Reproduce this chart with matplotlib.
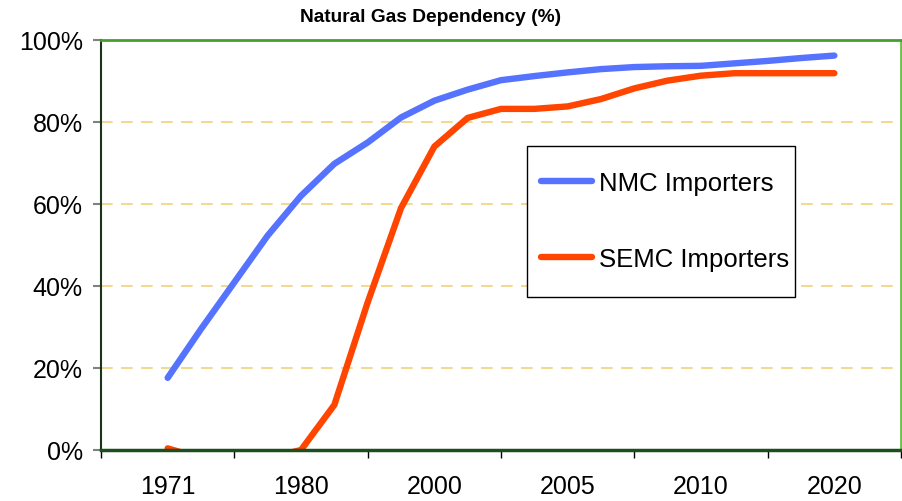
import numpy as np
import matplotlib
matplotlib.use("Agg")
import matplotlib.pyplot as plt
from matplotlib.patches import Rectangle
from matplotlib.ticker import FixedLocator, NullFormatter, FixedFormatter

plt.rcParams['font.family'] = ['Liberation Sans', 'DejaVu Sans']

# ---- data ----
categories = ['1971', '1980', '2000', '2005', '2010', '2020']
steps_per_category = 4  # data points between category labels
nmc_importers = [17.6, 29.5, 40.9, 52.3, 62.0, 69.8, 75.0, 81.1, 85.2, 87.9,
                 90.2, 91.2, 92.1, 92.9, 93.4, 93.6, 93.7, 94.3, 94.9, 95.6, 96.2]
semc_importers = [0.4, -2.0, -2.0, -2.0, 0.0, 11.0, 36.0, 59.0, 74.0, 81.0,
                  83.2, 83.2, 83.8, 85.6, 88.2, 90.1, 91.3, 91.9, 91.9, 91.9, 91.9]
series_names = ['NMC Importers', 'SEMC Importers']
y_ticks = [0, 20, 40, 60, 80, 100]
y_tick_labels = ['0%', '20%', '40%', '60%', '80%', '100%']
title = 'Natural Gas Dependency (%)'

# ---- figure ----
W, H = 903, 502
fig = plt.figure(figsize=(W / 100, H / 100), dpi=100)
ax = fig.add_axes([101 / W, 1 - 451 / H, 800 / W, 410 / H])

x = np.arange(len(nmc_importers)) / steps_per_category
ax.plot(x, nmc_importers, color='#5573ff', lw=4.6, solid_capstyle='round',
        solid_joinstyle='round', label=series_names[0], zorder=3)
ax.plot(x, semc_importers, color='#ff4500', lw=4.6, solid_capstyle='round',
        solid_joinstyle='round', label=series_names[1], zorder=3)

n = len(categories)
ax.set_xlim(-0.5, n - 0.5)
ax.set_ylim(0, 100)

# x axis: ticks at category boundaries, labels at centres
ax.xaxis.set_major_locator(FixedLocator(np.arange(n + 1) - 0.5))
ax.xaxis.set_major_formatter(NullFormatter())
ax.xaxis.set_minor_locator(FixedLocator(np.arange(n)))
ax.xaxis.set_minor_formatter(FixedFormatter(categories))
ax.tick_params(axis='x', which='major', direction='out', length=6, width=1,
               color='black')
ax.tick_params(axis='x', which='minor', length=0, pad=17.5, labelsize=18)

ax.set_yticks(y_ticks)
ax.set_yticklabels(y_tick_labels)
ax.tick_params(axis='y', direction='out', length=6, width=1.5, color='#808080',
               pad=7, labelsize=18)

# grid
for v in y_ticks[1:-1]:
    ax.axhline(v, color='#efd27a', lw=1.2, ls=(0, (7, 5)), zorder=1)

# spines
ax.spines['top'].set_color('#43a02f')
ax.spines['top'].set_linewidth(2)
ax.spines['right'].set_color('#6cc04a')
ax.spines['right'].set_linewidth(2)
ax.spines['left'].set_color('#1a331a')
ax.spines['left'].set_linewidth(1.5)
ax.spines['bottom'].set_color('#1e4d1e')
ax.spines['bottom'].set_linewidth(2.5)
for s in ax.spines.values():
    s.set_zorder(4)

# legend frame (drawn as a rectangle) and entries
ax.add_patch(Rectangle((527 / W, 1 - 298 / H), 268 / W, 151 / H,
                       transform=fig.transFigure, facecolor='white',
                       edgecolor='black', lw=1, zorder=5, clip_on=False))
leg = ax.legend(loc='upper left',
                bbox_to_anchor=(541 / W, 1 - 172 / H),
                bbox_transform=fig.transFigure,
                frameon=False, fontsize=18.5, handlelength=2.0,
                handletextpad=0.25, borderpad=0, labelspacing=2.02,
                borderaxespad=0)
leg.set_zorder(6)

fig.text(431 / W, 1 - 18 / H, title, ha='center', va='center',
         fontsize=13.8, fontweight='bold')

fig.savefig('out.png', dpi=100)
